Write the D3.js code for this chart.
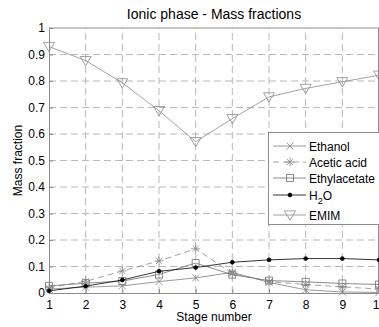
<!DOCTYPE html>
<html>
<head>
<meta charset="utf-8">
<script src="https://cdn.jsdelivr.net/npm/d3@7"></script>
<style>
body { margin: 0; background: #fff; }
text { font-family: "Liberation Sans", Arial, sans-serif; }
</style>
</head>
<body>
<script>
// donnees
const stages = [1, 2, 3, 4, 5, 6, 7, 8, 9, 10]
const ethanol = [0.015, 0.022, 0.027, 0.043, 0.057, 0.078, 0.040, 0.012, 0.004, 0.002]
const aceticAcid = [0.020, 0.044, 0.083, 0.121, 0.167, 0.074, 0.043, 0.032, 0.023, 0.015]
const ethylacetate = [0.027, 0.037, 0.045, 0.070, 0.113, 0.069, 0.047, 0.042, 0.036, 0.032]
const water = [0.008, 0.026, 0.049, 0.082, 0.096, 0.116, 0.125, 0.130, 0.130, 0.125]
const emim = [0.930, 0.877, 0.793, 0.688, 0.571, 0.658, 0.740, 0.772, 0.797, 0.822]
const yTicks = [0, 0.1, 0.2, 0.3, 0.4, 0.5, 0.6, 0.7, 0.8, 0.9, 1]

const width = 379, height = 327
const margin = { top: 28, right: 0, bottom: 34, left: 49 }

const svg = d3.select('body').append('svg')
    .attr('width', width)
    .attr('height', height)

const x = d3.scaleLinear().domain([1, 10]).range([margin.left, width])
const y = d3.scaleLinear().domain([0, 1]).range([height - margin.bottom, margin.top])

// grille en traitillés
svg.append('g').selectAll('line')
    .data(stages.slice(1))
    .join('line')
    .attr('x1', d => x(d)).attr('x2', d => x(d))
    .attr('y1', y(0)).attr('y2', y(1))
    .attr('stroke', '#b8b8b8').attr('stroke-dasharray', '7,4')
svg.append('g').selectAll('line')
    .data(yTicks.slice(1, -1))
    .join('line')
    .attr('x1', x(1)).attr('x2', x(10))
    .attr('y1', d => y(d)).attr('y2', d => y(d))
    .attr('stroke', '#b8b8b8').attr('stroke-dasharray', '7,4')

// axes (ticks vers l'intérieur)
svg.append('g')
    .attr('transform', `translate(0, ${y(0)})`)
    .call(d3.axisBottom(x).tickValues(stages).tickSize(-4).tickPadding(7).tickFormat(d3.format('d')))
svg.append('g')
    .attr('transform', `translate(${x(1)}, 0)`)
    .call(d3.axisLeft(y).tickValues(yTicks).tickSize(-4).tickPadding(4).tickFormat(d => d === 0 || d === 1 ? d : d3.format('.1f')(d)))
svg.selectAll('.domain').attr('stroke', '#8c8c8c')
svg.selectAll('.tick line').attr('stroke', '#8c8c8c')
svg.selectAll('.tick text').attr('font-size', 12).attr('fill', '#000')
    .attr('font-family', '"Liberation Sans", Arial, sans-serif')

// bord du haut et de droite
svg.append('line')
    .attr('x1', x(1)).attr('x2', x(10)).attr('y1', y(1)).attr('y2', y(1))
    .attr('stroke', '#8c8c8c')
svg.append('line')
    .attr('x1', x(10) - 0.5).attr('x2', x(10) - 0.5).attr('y1', y(1)).attr('y2', y(0))
    .attr('stroke', '#8c8c8c')

// formes des marqueurs façon matlab
const markers = {
    x: s => `M${-s},${-s}L${s},${s}M${-s},${s}L${s},${-s}`,
    star: s => `M${-s},0L${s},0M0,${-s}L0,${s}M${-s * 0.7},${-s * 0.7}L${s * 0.7},${s * 0.7}M${-s * 0.7},${s * 0.7}L${s * 0.7},${-s * 0.7}`,
    square: s => `M${-s},${-s}H${s}V${s}H${-s}Z`,
    dot: s => d3.symbol(d3.symbolCircle, s * s * Math.PI)(),
    tri: s => `M${-s},${-s * 0.75}H${s}L0,${s * 0.95}Z`
}

const series = [
    { name: 'Ethanol', values: ethanol, color: '#808080', dash: null, marker: 'x', size: 3.5, fill: 'none' },
    { name: 'Acetic acid', values: aceticAcid, color: '#8a8a8a', dash: '6,4', marker: 'star', size: 4.5, fill: 'none' },
    { name: 'Ethylacetate', values: ethylacetate, color: '#6e6e6e', dash: null, marker: 'square', size: 3.5, fill: 'none' },
    { name: 'H2O', values: water, color: '#000000', dash: null, marker: 'dot', size: 1.9, fill: '#000' },
    { name: 'EMIM', values: emim, color: '#8c8c8c', dash: null, marker: 'tri', size: 5.5, fill: 'none' }
]

const line = d3.line().x((d, i) => x(stages[i])).y(d => y(d))

series.forEach(s => {
    svg.append('path')
        .attr('d', line(s.values))
        .attr('fill', 'none')
        .attr('stroke', s.color)
        .attr('stroke-width', 0.8)
        .attr('stroke-dasharray', s.dash)
    svg.append('g').selectAll('path')
        .data(s.values)
        .join('path')
        .attr('transform', (d, i) => `translate(${x(stages[i])}, ${y(d)})`)
        .attr('d', markers[s.marker](s.size))
        .attr('fill', s.fill)
        .attr('stroke', s.color)
        .attr('stroke-width', 0.8)
})

// légende
const legendY = [146, 162, 178, 195, 215]
const legend = svg.append('g')
legend.append('rect')
    .attr('x', 268.5).attr('y', 132.5)
    .attr('width', 120).attr('height', 92)
    .attr('fill', '#fff').attr('stroke', '#8c8c8c')
series.forEach((s, i) => {
    const g = legend.append('g').attr('transform', `translate(0, ${legendY[i]})`)
    g.append('line')
        .attr('x1', 273).attr('x2', 306)
        .attr('stroke', s.color).attr('stroke-width', 0.8)
        .attr('stroke-dasharray', s.dash)
    g.append('path')
        .attr('transform', 'translate(290, 0)')
        .attr('d', markers[s.marker](s.size))
        .attr('fill', s.fill).attr('stroke', s.color).attr('stroke-width', 0.8)
    const t = g.append('text')
        .attr('x', 309).attr('y', 4.5)
        .attr('font-size', 12)
    if (s.name === 'H2O') {
        t.append('tspan').text('H')
        t.append('tspan').attr('dy', 4).attr('font-size', 9).text('2')
        t.append('tspan').attr('dy', -4).text('O')
    } else {
        t.text(s.name)
    }
})

// titres
svg.append('text')
    .attr('x', (x(1) + x(10)) / 2).attr('y', 19)
    .attr('text-anchor', 'middle')
    .attr('font-size', 14)
    .text('Ionic phase - Mass fractions')
svg.append('text')
    .attr('x', (x(1) + x(10)) / 2).attr('y', 321)
    .attr('text-anchor', 'middle')
    .attr('font-size', 12)
    .text('Stage number')
svg.append('text')
    .attr('transform', `translate(22, ${(y(0) + y(1)) / 2}) rotate(-90)`)
    .attr('text-anchor', 'middle')
    .attr('font-size', 12)
    .text('Mass fraction')
</script>
</body>
</html>
